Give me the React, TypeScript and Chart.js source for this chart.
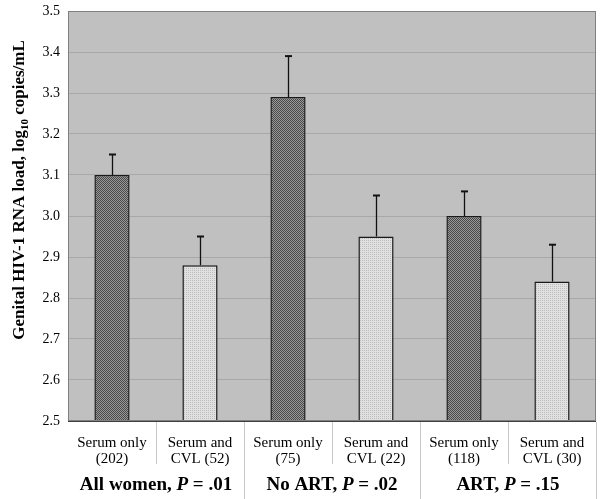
import React, { useEffect, useRef } from "react";
import { Chart, registerables } from "chart.js";

Chart.register(...registerables);

const categories: string[][] = [
  ["Serum only", "(202)"],
  ["Serum and", "CVL (52)"],
  ["Serum only", "(75)"],
  ["Serum and", "CVL (22)"],
  ["Serum only", "(118)"],
  ["Serum and", "CVL (30)"],
];
const means = [3.1, 2.88, 3.29, 2.95, 3.0, 2.84];
const errorTops = [3.15, 2.95, 3.39, 3.05, 3.06, 2.93];
const groupNames = ["All women", "No ART", "ART"];
const groupP = [".01", ".02", ".15"];
const yMin = 2.5;
const yMax = 3.5;
const yStep = 0.1;

const SERIF = "'Liberation Serif', 'Times New Roman', serif";

function makePattern(kind: "dark" | "light"): CanvasPattern | string {
  const c = document.createElement("canvas");
  c.width = 4;
  c.height = 4;
  const g = c.getContext("2d");
  if (!g) return kind === "dark" ? "#777" : "#ddd";
  if (kind === "dark") {
    g.fillStyle = "#9a9a9a";
    g.fillRect(0, 0, 4, 4);
    g.fillStyle = "#484848";
    for (let y = 0; y < 4; y++)
      for (let x = 0; x < 4; x++) if ((x + y) % 2 === 0) g.fillRect(x, y, 1, 1);
  } else {
    g.fillStyle = "#e0e0e0";
    g.fillRect(0, 0, 4, 4);
    g.fillStyle = "#bdbdbd";
    g.fillRect(0, 0, 1, 1);
    g.fillRect(2, 2, 1, 1);
    g.fillRect(0, 2, 1, 1);
    g.fillRect(2, 0, 1, 1);
  }
  const p = g.createPattern(c, "repeat");
  return p || (kind === "dark" ? "#777" : "#ddd");
}

export default function App() {
  const ref = useRef<HTMLCanvasElement | null>(null);

  useEffect(() => {
    const canvas = ref.current;
    if (!canvas) return;
    const dark = makePattern("dark");
    const light = makePattern("light");

    const bgPlugin = {
      id: "bgPlugin",
      beforeDraw(chart: any) {
        const { ctx, chartArea } = chart;
        ctx.save();
        ctx.fillStyle = "#ffffff";
        ctx.fillRect(0, 0, chart.width, chart.height);
        ctx.fillStyle = "#c0c0c0";
        ctx.fillRect(chartArea.left, chartArea.top, chartArea.right - chartArea.left, chartArea.bottom - chartArea.top);
        ctx.restore();
      },
    };

    const errPlugin = {
      id: "errPlugin",
      afterDatasetsDraw(chart: any) {
        const { ctx } = chart;
        const meta = chart.getDatasetMeta(0);
        const ys = chart.scales.y;
        ctx.save();
        ctx.strokeStyle = "#111";
        meta.data.forEach((bar: any, i: number) => {
          const x = Math.round(bar.x) + 0.5;
          const yTop = ys.getPixelForValue(errorTops[i]);
          const yBar = ys.getPixelForValue(means[i]);
          ctx.lineWidth = 1.3;
          ctx.beginPath();
          ctx.moveTo(x, yBar);
          ctx.lineTo(x, yTop);
          ctx.stroke();
          ctx.lineWidth = 2;
          ctx.beginPath();
          ctx.moveTo(x - 3.5, yTop);
          ctx.lineTo(x + 3.5, yTop);
          ctx.stroke();
        });
        ctx.restore();
      },
    };

    const decoPlugin = {
      id: "decoPlugin",
      afterDraw(chart: any) {
        const { ctx, chartArea } = chart;
        const { left, right, top, bottom } = chartArea;
        const n = categories.length;
        const cw = (right - left) / n;
        ctx.save();
        ctx.strokeStyle = "#808080";
        ctx.lineWidth = 1;
        ctx.strokeRect(left + 0.5, top + 0.5, right - left - 1, bottom - top - 1);
        ctx.strokeStyle = "#404040";
        ctx.beginPath();
        ctx.moveTo(left, bottom + 0.5);
        ctx.lineTo(right, bottom + 0.5);
        ctx.stroke();
        ctx.strokeStyle = "#c8c8c8";
        for (let i = 1; i <= n; i++) {
          const x = Math.round(left + cw * i) + 0.5;
          const isGroup = i % 2 === 0;
          ctx.beginPath();
          ctx.moveTo(x, bottom + 1);
          ctx.lineTo(x, isGroup ? chart.height : bottom + 43);
          ctx.stroke();
        }
        ctx.fillStyle = "#000";
        ctx.textBaseline = "alphabetic";
        const fBold = "bold 19px " + SERIF;
        const fBI = "italic bold 19px " + SERIF;
        groupNames.forEach((name, g) => {
          const segs: [string, string][] = [
            [name + ", ", fBold],
            ["P", fBI],
            [" = " + groupP[g], fBold],
          ];
          let total = 0;
          const widths = segs.map(([t, f]) => {
            ctx.font = f;
            const w = ctx.measureText(t).width;
            total += w;
            return w;
          });
          const cx = left + cw * (2 * g + 1);
          let x = cx - total / 2;
          ctx.textAlign = "left";
          segs.forEach(([t, f], k) => {
            ctx.font = f;
            ctx.fillText(t, x, 490);
            x += widths[k];
          });
        });
        const tf = "bold 17px " + SERIF;
        const sf = "bold 11px " + SERIF;
        const tsegs: [string, string, number][] = [
          ["Genital HIV-1 RNA load, log", tf, 0],
          ["10", sf, 4],
          [" copies/mL", tf, 0],
        ];
        let tw = 0;
        const tws = tsegs.map(([t, f]) => {
          ctx.font = f;
          const w = ctx.measureText(t).width;
          tw += w;
          return w;
        });
        ctx.translate(24, 190);
        ctx.rotate(-Math.PI / 2);
        let tx = -tw / 2;
        tsegs.forEach(([t, f, dy], k) => {
          ctx.font = f;
          ctx.fillText(t, tx, dy);
          tx += tws[k];
        });
        ctx.restore();
      },
    };

    const chart = new Chart(canvas, {
      type: "bar",
      data: {
        labels: categories,
        datasets: [
          {
            data: means,
            backgroundColor: means.map((_, i) => (i % 2 === 0 ? dark : light)) as any,
            borderColor: "#1a1a1a",
            borderWidth: 1.5,
            barPercentage: 0.4,
            categoryPercentage: 1,
          },
        ],
      },
      options: {
        responsive: false,
        animation: false,
        events: [],
        layout: { padding: { top: 11, right: 4, left: 0, bottom: 0 } },
        plugins: { legend: { display: false }, tooltip: { enabled: false }, title: { display: false } },
        scales: {
          x: {
            grid: { display: false },
            border: { display: false },
            ticks: {
              color: "#000",
              font: { family: SERIF, size: 15, lineHeight: 1.05 },
              padding: 6,
              maxRotation: 0,
              autoSkip: false,
            },
            afterFit(scale: any) {
              scale.height = 78;
              scale.paddingLeft = 0;
              scale.paddingRight = 0;
            },
          },
          y: {
            min: yMin,
            max: yMax,
            grid: { color: "#a8a8a8", drawTicks: false, lineWidth: 1 },
            border: { display: false },
            ticks: {
              stepSize: yStep,
              color: "#000",
              font: { family: SERIF, size: 14 },
              padding: 8,
              callback: (v: any) => Number(v).toFixed(1),
            },
            afterFit(scale: any) {
              scale.width = 68;
              scale.paddingTop = 0;
              scale.paddingBottom = 0;
            },
          },
        },
      },
      plugins: [bgPlugin, errPlugin, decoPlugin],
    });

    return () => chart.destroy();
  }, []);

  return (
    <div style={{ position: "absolute", left: 0, top: 0, width: 600, height: 499 }}>
      <canvas ref={ref} width={600} height={499} style={{ display: "block" }} />
    </div>
  );
}
